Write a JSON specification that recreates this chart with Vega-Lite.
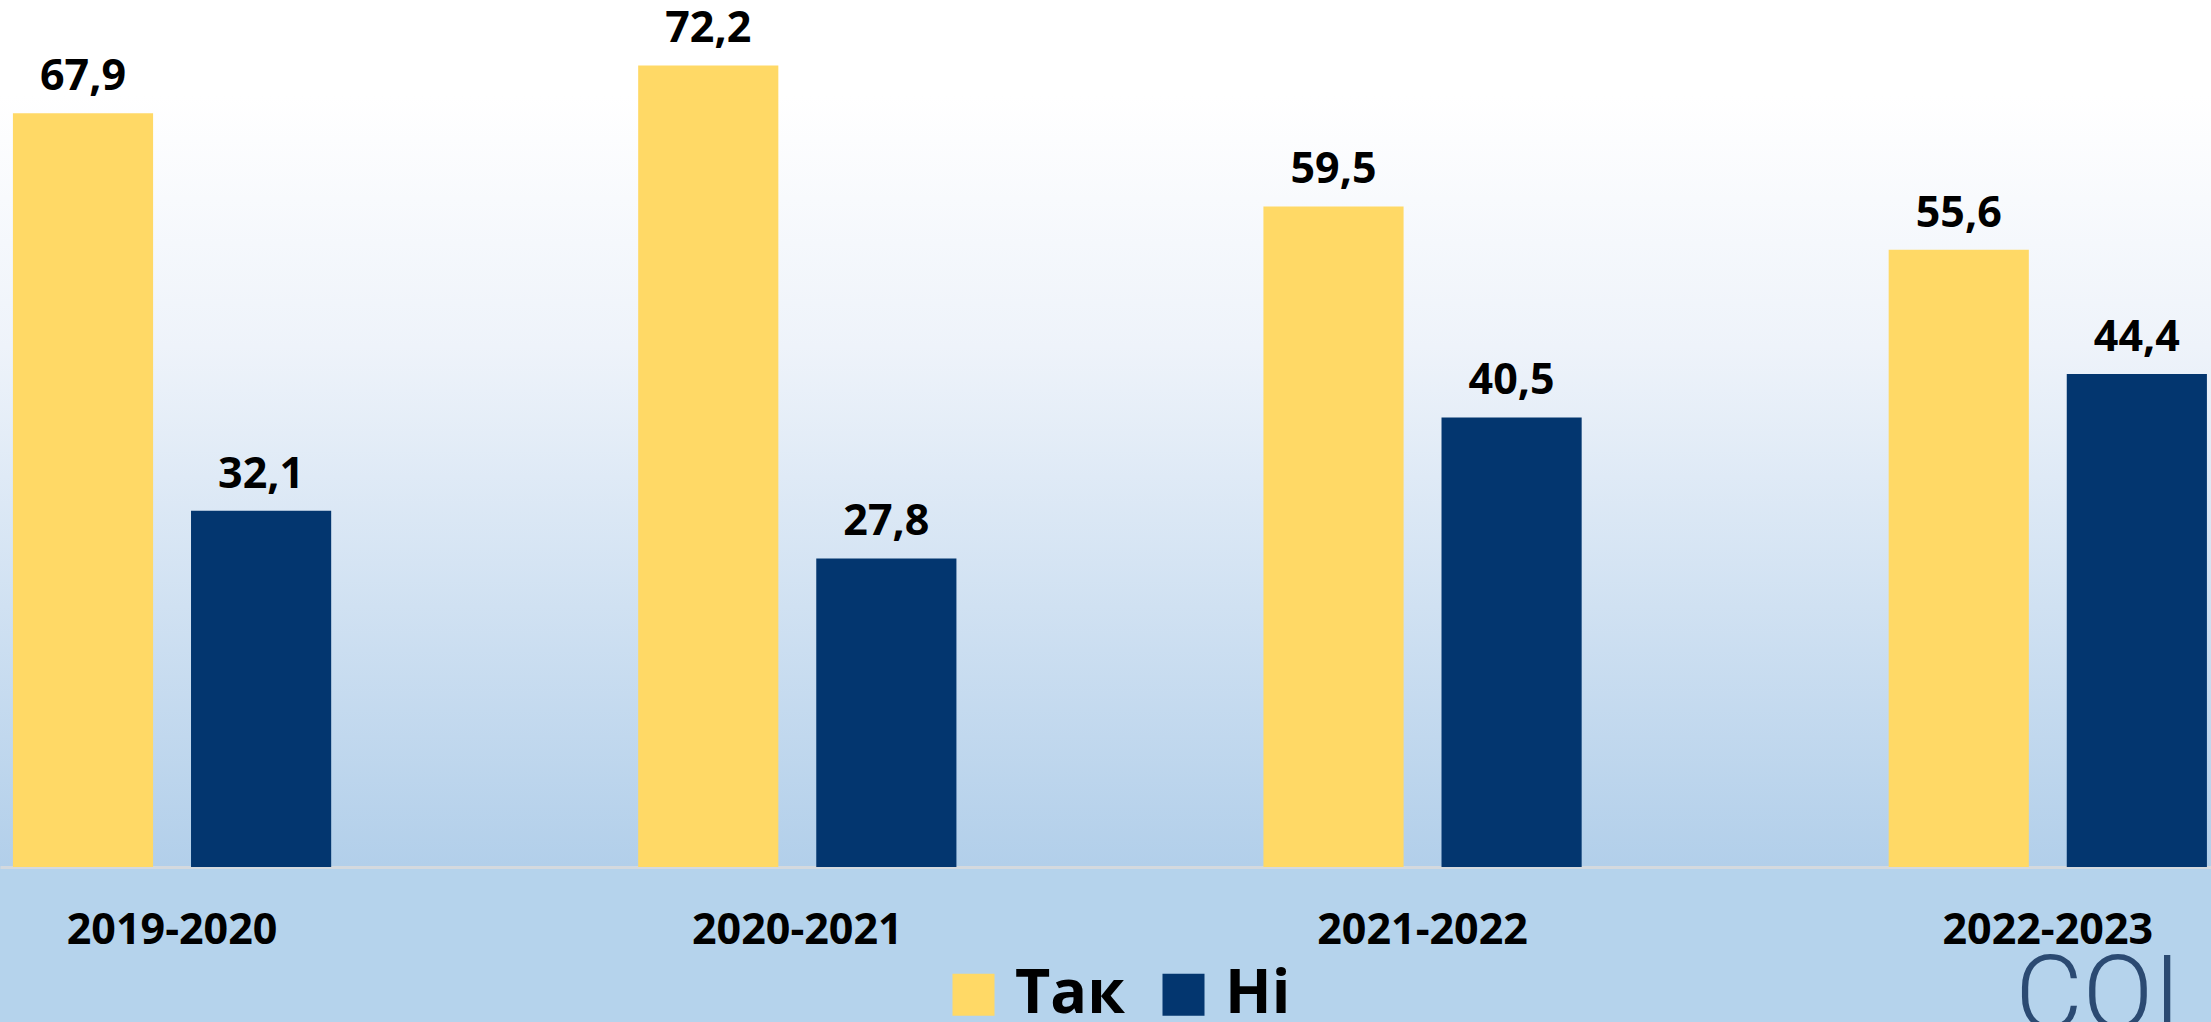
{
  "$schema": "https://vega.github.io/schema/vega-lite/v6.json",
  "width": 2211,
  "height": 867,
  "autosize": {"type": "none"},
  "padding": {"left": 0, "top": 0, "right": 0, "bottom": 155},
  "background": "#b5d3ec",
  "title": {
    "text": "COI",
    "orient": "bottom",
    "anchor": "end",
    "font": "Roboto",
    "fontSize": 104,
    "fontWeight": 300,
    "color": "#2b4a72",
    "baseline": "top",
    "offset": -78,
    "dx": -30
  },
  "config": {
    "view": {
      "stroke": null,
      "fill": {
        "gradient": "linear",
        "x1": 0, "y1": 0, "x2": 0, "y2": 1,
        "stops": [
          {"offset": 0, "color": "#ffffff"},
          {"offset": 0.11, "color": "#ffffff"},
          {"offset": 0.4, "color": "#eef3fa"},
          {"offset": 1, "color": "#b2cfea"}
        ]
      }
    },
    "font": "Open Sans"
  },
  "data": {
    "values": [
      {"year": "2019-2020", "answer": "Так", "value": 67.9, "label": "67,9"},
      {"year": "2019-2020", "answer": "Ні", "value": 32.1, "label": "32,1"},
      {"year": "2020-2021", "answer": "Так", "value": 72.2, "label": "72,2"},
      {"year": "2020-2021", "answer": "Ні", "value": 27.8, "label": "27,8"},
      {"year": "2021-2022", "answer": "Так", "value": 59.5, "label": "59,5"},
      {"year": "2021-2022", "answer": "Ні", "value": 40.5, "label": "40,5"},
      {"year": "2022-2023", "answer": "Так", "value": 55.6, "label": "55,6"},
      {"year": "2022-2023", "answer": "Ні", "value": 44.4, "label": "44,4"}
    ]
  },
  "layer": [
    {
      "mark": {"type": "bar"},
      "encoding": {
        "x": {
          "field": "year", "type": "nominal", "sort": null,
          "scale": {"paddingInner": 0.491, "paddingOuter": 0.0136, "align": 0.76},
          "axis": {
            "title": null,
            "ticks": false,
            "labelPadding": 42,
            "labelLimit": 500,
            "labelFont": "Open Sans",
            "labelFontSize": 43,
            "labelFontWeight": "bold",
            "labelColor": "#000000",
            "labelAngle": 0,
            "domainColor": "#d4d9de",
            "domainWidth": 3,
            "grid": false
          }
        },
        "xOffset": {
          "field": "answer", "type": "nominal", "sort": ["Так", "Ні"],
          "scale": {"paddingInner": 0.213, "paddingOuter": 0}
        },
        "y": {
          "field": "value", "type": "quantitative",
          "scale": {"domain": [0, 78.1], "nice": false, "zero": true},
          "axis": null
        },
        "color": {
          "field": "answer", "type": "nominal", "sort": ["Так", "Ні"],
          "scale": {"domain": ["Так", "Ні"], "range": ["#ffd966", "#03366f"]},
          "legend": {
            "title": null,
            "orient": "none",
            "direction": "horizontal",
            "legendX": 943,
            "legendY": 964,
            "symbolType": "square",
            "symbolSize": 1764,
            "symbolStrokeWidth": 0,
            "labelFont": "Open Sans",
            "labelFontSize": 61,
            "labelFontWeight": "bold",
            "labelColor": "#000000",
            "labelLimit": 500,
            "labelOffset": 11,
            "columnPadding": 28
          }
        }
      }
    },
    {
      "mark": {"type": "text", "baseline": "alphabetic", "dy": -23, "font": "Open Sans", "fontSize": 43, "fontWeight": "bold", "color": "#000000"},
      "encoding": {
        "x": {"field": "year", "type": "nominal", "sort": null},
        "xOffset": {"field": "answer", "type": "nominal", "sort": ["Так", "Ні"]},
        "y": {"field": "value", "type": "quantitative"},
        "text": {"field": "label", "type": "nominal"}
      }
    }
  ]
}
